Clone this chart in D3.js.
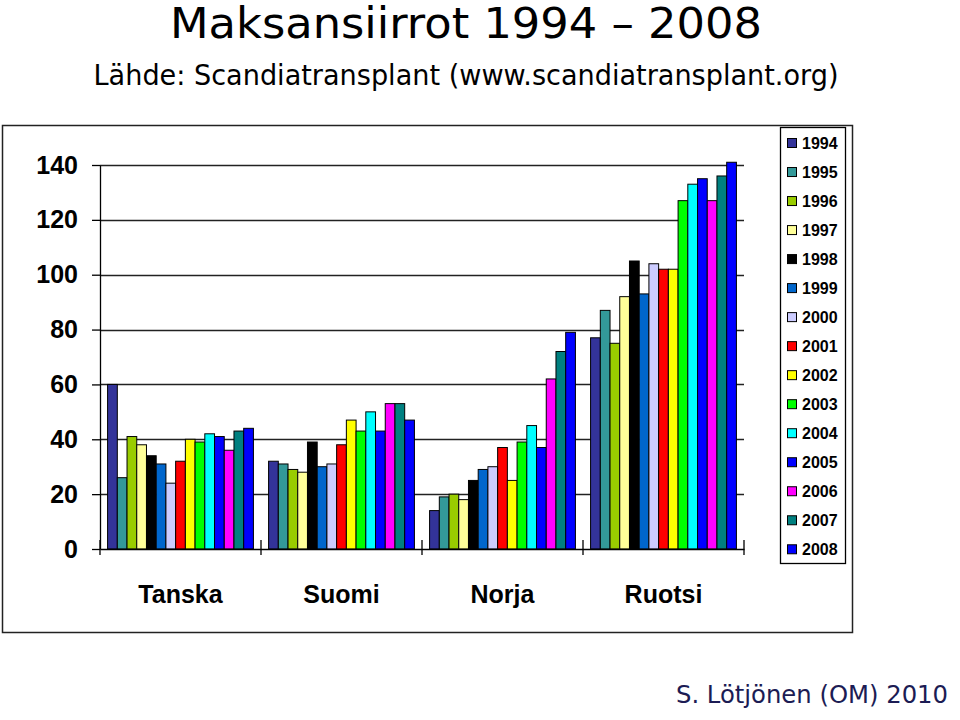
<!DOCTYPE html>
<html>
<head>
<meta charset="utf-8">
<script src="https://cdn.jsdelivr.net/npm/d3@7"></script>
<style>
  body { margin: 0; background: #fff; }
  text { font-family: "Liberation Sans", Arial, sans-serif; }
</style>
</head>
<body>
<script>
// data
var countries = ["Tanska", "Suomi", "Norja", "Ruotsi"];
var years = ["1994", "1995", "1996", "1997", "1998", "1999", "2000", "2001",
             "2002", "2003", "2004", "2005", "2006", "2007", "2008"];
var tanska = [60, 26, 41, 38, 34, 31, 24, 32, 40, 39, 42, 41, 36, 43, 44];
var suomi  = [32, 31, 29, 28, 39, 30, 31, 38, 47, 43, 50, 43, 53, 53, 47];
var norja  = [14, 19, 20, 18, 25, 29, 30, 37, 25, 39, 45, 37, 62, 72, 79];
var ruotsi = [77, 87, 75, 92, 105, 93, 104, 102, 102, 127, 133, 135, 127, 136, 141];
var yTicks = [0, 20, 40, 60, 80, 100, 120, 140];
var colors = ["#333399", "#339999", "#99CC00", "#FFFF99", "#000000", "#0066CC",
              "#CCCCFF", "#FF0000", "#FFFF00", "#00FF00", "#00FFFF", "#0000FF",
              "#FF00FF", "#008080", "#0000FF"];

var values = [tanska, suomi, norja, ruotsi];

var width = 960, height = 720;
var margin = { top: 165, left: 100, right: 216, bottom: 171 };
var plotW = width - margin.left - margin.right,
    plotH = height - margin.top - margin.bottom;

var svg = d3.select("body").append("svg")
    .attr("width", width)
    .attr("height", height);

// titles
svg.append("text")
    .attr("x", 466).attr("y", 38)
    .attr("text-anchor", "middle")
    .attr("textLength", 592).attr("lengthAdjust", "spacingAndGlyphs")
    .style("font-family", "'DejaVu Sans', sans-serif")
    .style("font-size", "42px")
    .text("Maksansiirrot 1994 – 2008");

svg.append("text")
    .attr("x", 466).attr("y", 85)
    .attr("text-anchor", "middle")
    .attr("textLength", 745).attr("lengthAdjust", "spacingAndGlyphs")
    .style("font-family", "'DejaVu Sans', sans-serif")
    .style("font-size", "28px")
    .text("Lähde: Scandiatransplant (www.scandiatransplant.org)");

svg.append("text")
    .attr("x", 948).attr("y", 703)
    .attr("text-anchor", "end")
    .attr("textLength", 272).attr("lengthAdjust", "spacingAndGlyphs")
    .style("font-family", "'DejaVu Sans', sans-serif")
    .style("font-size", "25px")
    .style("fill", "#1c1c54")
    .text("S. Lötjönen (OM) 2010");

// chart frame
svg.append("rect")
    .attr("x", 2.5).attr("y", 125.5)
    .attr("width", 850).attr("height", 507)
    .attr("fill", "none")
    .attr("stroke", "#222")
    .attr("stroke-width", 1.5);

var g = svg.append("g")
    .attr("transform", "translate(" + margin.left + "," + margin.top + ")");

// scales
var x0 = d3.scaleBand()
    .domain(countries)
    .range([0, plotW]);

var x1 = d3.scaleBand()
    .domain(years)
    .range([0, x0.bandwidth()])
    .paddingOuter(0.78);

var y = d3.scaleLinear()
    .domain([0, 140])
    .range([plotH, 0]);

// gridlines
g.append("g")
    .selectAll("line")
    .data(yTicks.slice(1))
    .enter().append("line")
    .attr("x1", 0).attr("x2", plotW)
    .attr("y1", function (d) { return Math.round(y(d)) + 0.5; })
    .attr("y2", function (d) { return Math.round(y(d)) + 0.5; })
    .attr("stroke", "#222")
    .attr("stroke-width", 1.3);

// bars
var groups = g.selectAll(".grp")
    .data(countries)
    .enter().append("g")
    .attr("class", "grp")
    .attr("transform", function (d) { return "translate(" + x0(d) + ",0)"; });

groups.selectAll("rect")
    .data(function (d, i) {
        return years.map(function (yr, j) { return { year: yr, value: values[i][j], k: j }; });
    })
    .enter().append("rect")
    .attr("x", function (d) { return x1(d.year); })
    .attr("y", function (d) { return y(d.value); })
    .attr("width", x1.bandwidth())
    .attr("height", function (d) { return plotH - y(d.value); })
    .attr("fill", function (d) { return colors[d.k]; })
    .attr("stroke", "#000")
    .attr("stroke-width", 1);

// y axis
var yAxis = g.append("g")
    .attr("class", "y axis")
    .call(d3.axisLeft(y).tickValues(yTicks).tickSize(8).tickSizeOuter(0).tickPadding(14));
yAxis.select(".domain").attr("stroke", "#000").attr("stroke-width", 1.3);
yAxis.selectAll(".tick line").attr("stroke", "#000").attr("stroke-width", 1.3);
yAxis.selectAll("text")
    .style("font-size", "25px")
    .style("font-weight", "bold")
    .attr("fill", "#000");

// x axis
var xAxis = g.append("g")
    .attr("class", "x axis")
    .attr("transform", "translate(0," + plotH + ")")
    .call(d3.axisBottom(x0).tickSize(0).tickPadding(36));
xAxis.select(".domain").attr("stroke", "#000").attr("stroke-width", 1.5);
xAxis.selectAll("text")
    .style("font-size", "25px")
    .style("font-weight", "bold")
    .attr("fill", "#000");

// category separators (ticks crossing the axis)
g.append("g")
    .selectAll("line")
    .data(d3.range(countries.length + 1))
    .enter().append("line")
    .attr("x1", function (i) { return i * x0.step(); })
    .attr("x2", function (i) { return i * x0.step(); })
    .attr("y1", plotH - 9).attr("y2", plotH + 6)
    .attr("stroke", "#000")
    .attr("stroke-width", 1.3);

// legend
var legend = svg.append("g").attr("transform", "translate(780,127)");
legend.append("rect")
    .attr("x", 0.5).attr("y", 0.5)
    .attr("width", 65).attr("height", 436)
    .attr("fill", "#fff")
    .attr("stroke", "#000")
    .attr("stroke-width", 1.3);

var item = legend.selectAll(".item")
    .data(years)
    .enter().append("g")
    .attr("class", "item")
    .attr("transform", function (d, i) { return "translate(0," + (16 + i * 29.02) + ")"; });

item.append("rect")
    .attr("x", 7.5).attr("y", -4.5)
    .attr("width", 9).attr("height", 9)
    .attr("fill", function (d, i) { return colors[i]; })
    .attr("stroke", "#000")
    .attr("stroke-width", 1);

item.append("text")
    .attr("x", 22).attr("y", 6)
    .style("font-size", "16px")
    .style("font-weight", "bold")
    .text(function (d) { return d; });
</script>
</body>
</html>
